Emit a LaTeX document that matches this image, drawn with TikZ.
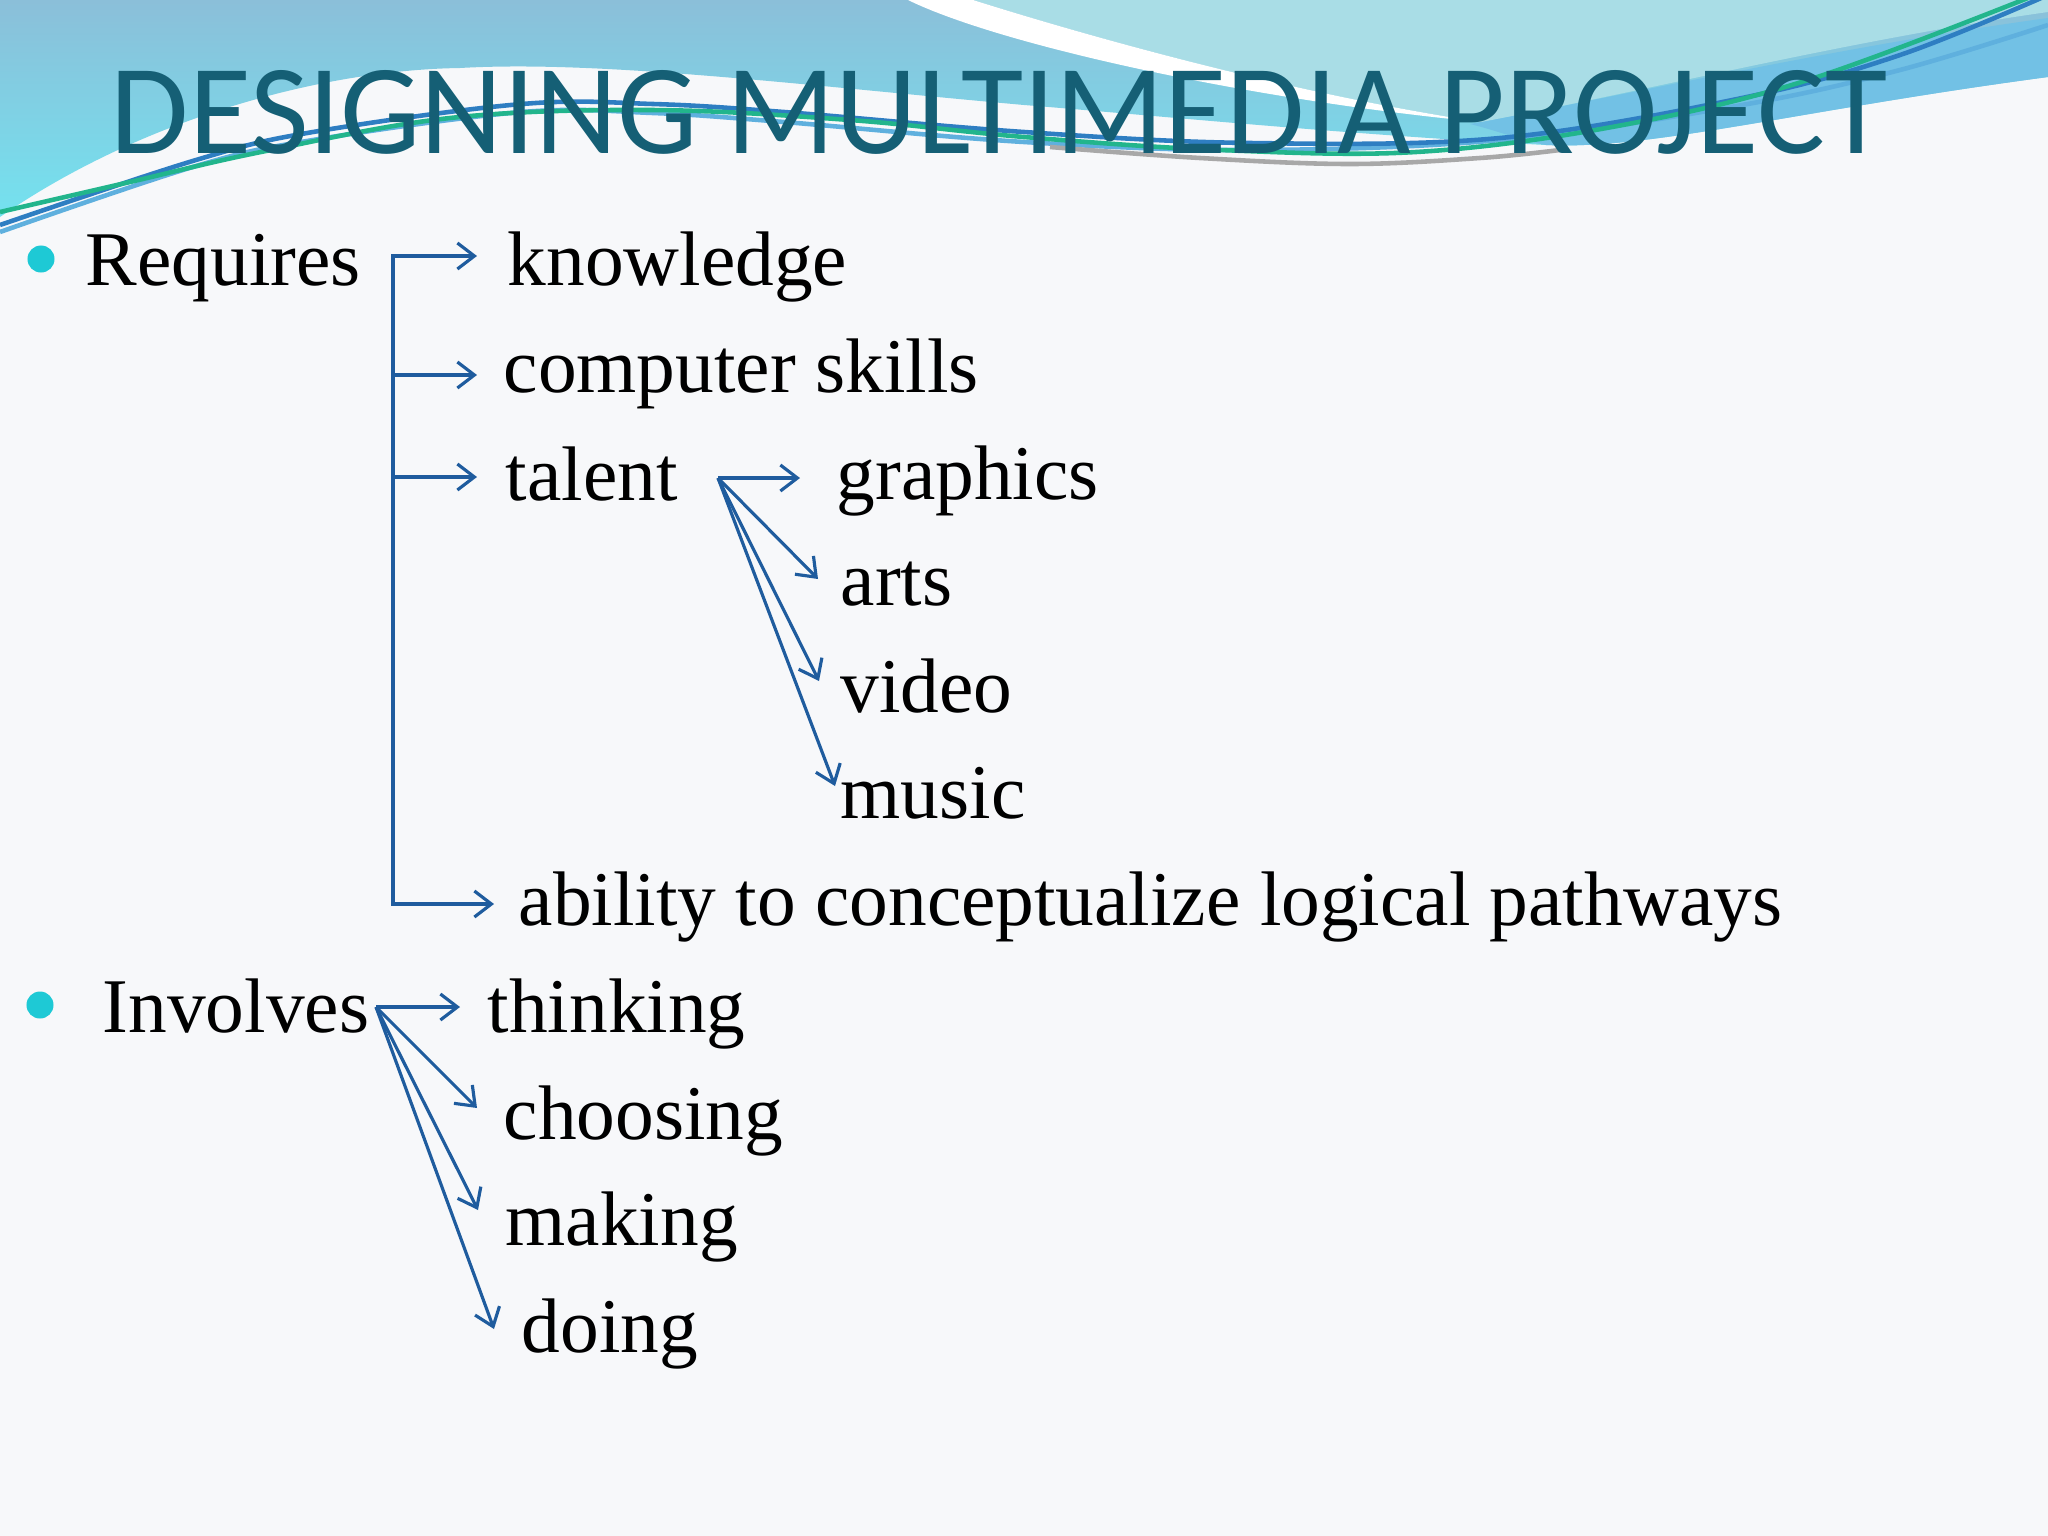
\documentclass[tikz,border=0pt]{standalone}
\usepackage{fontspec}
\setmainfont{Liberation Serif}
\newfontfamily\titlefont{Carlito}
\usetikzlibrary{arrows.meta}
\definecolor{pagebg}{HTML}{F7F8FA}
\definecolor{topblue}{HTML}{8BBFD9}
\definecolor{lowcyan}{HTML}{74E2EF}
\definecolor{lightcyan}{HTML}{A9DDE6}
\definecolor{bandblue}{HTML}{72C1E5}
\definecolor{titleteal}{HTML}{155F75}
\definecolor{arrowblue}{HTML}{1F5C9E}
\definecolor{bulletcyan}{HTML}{1EC9D5}
\definecolor{linegreen}{HTML}{22B58C}
\definecolor{lineblue}{HTML}{2E7EC2}
\definecolor{lineblue2}{HTML}{5FB0DE}
\definecolor{linegrey}{HTML}{A8A8A8}
\tikzset{
  txt/.style={anchor=base west, inner sep=0pt, font=\fontsize{22pt}{26pt}\selectfont, text=black},
  bulletdot/.style={circle, fill=bulletcyan, inner sep=0pt, minimum size=0.27cm},
  conn/.style={draw=arrowblue, line width=0.9pt},
  arr/.style={conn, -{Straight Barb[length=0.17cm,width=0.26cm]}},
  wave/.style={line width=1.3pt}
}
\begin{document}
\begin{tikzpicture}[x=0.01cm,y=-0.01cm]
\useasboundingbox (0,0) rectangle (2048,1536);
\begin{scope}
\clip (0,0) rectangle (2048,1536);
\fill[pagebg] (0,0) rectangle (2048,1536);
% top-left blue region
\shade[top color=topblue, bottom color=lowcyan]
  (0,0) -- (2048,0) -- (2048,77)
  .. controls (1800,110) and (1650,150) .. (1546,145)
  .. controls (1350,135) and (1150,115) .. (1024,105)
  .. controls (800,85) and (600,60) .. (460,68)
  .. controls (320,70) and (140,120) .. (0,217) -- cycle;
% medium blue band at right
\fill[bandblue]
  (1470,124) .. controls (1650,90) and (1850,45) .. (2048,18)
  -- (2048,77) .. controls (1800,110) and (1650,150) .. (1546,145)
  .. controls (1520,140) and (1495,130) .. (1470,124) -- cycle;
% light cyan top-right region
\fill[lightcyan] (973,0) .. controls (1100,40) and (1300,95) .. (1481,122)
  .. controls (1650,90) and (1850,40) .. (2048,12) -- (2048,0) -- cycle;
% white stripe
\fill[white] (908,0) .. controls (1000,45) and (1250,100) .. (1481,122)
  .. controls (1300,95) and (1100,40) .. (973,0) -- cycle;
% wave lines
\draw[wave, lineblue2] plot[smooth, tension=0.6] coordinates {(0,232) (196,166) (313,140) (522,112) (653,113) (784,122) (1024,142) (1250,150) (1500,140) (1742,105) (1900,70) (2048,25)};
\draw[wave, lineblue] plot[smooth, tension=0.6] coordinates {(0,225) (196,160) (313,132) (522,104) (653,104) (784,112) (1024,132) (1250,143) (1500,138) (1742,98) (1900,55) (2048,-5)};
\draw[wave, linegrey] plot[smooth, tension=0.6] coordinates {(1050,147) (1200,158) (1350,164) (1480,158) (1560,150)};
\draw[wave, linegreen] plot[smooth, tension=0.6] coordinates {(0,212) (130,182) (261,152) (450,118) (650,110) (850,120) (1024,137) (1220,150) (1416,152) (1612,127) (1808,80) (2048,-10)};
\end{scope}
% title
\node[anchor=south west, inner sep=0pt, text=titleteal] (title) at (110,155)
  {\resizebox{17.76cm}{0.83cm}{\titlefont DESIGNING MULTIMEDIA PROJECT}};
% bullets and heads
\node[bulletdot] (bul1) at (41,259) {};
\node[bulletdot] (bul2) at (40,1005) {};
\node[txt] (requires) at (85,285) {Requires};
\node[txt] (involves) at (102,1032) {Involves};
% requires items
\node[txt] (knowledge) at (507,285) {knowledge};
\node[txt] (computer) at (503,392) {computer skills};
\node[txt] (talent) at (505,500) {talent};
\node[txt] (graphics) at (836,499) {graphics};
\node[txt] (arts) at (840,605) {arts};
\node[txt] (video) at (840,712) {video};
\node[txt] (music) at (840,818) {music};
\node[txt] (ability) at (518,925) {ability to conceptualize logical pathways};
% involves items
\node[txt] (thinking) at (487,1032) {thinking};
\node[txt] (choosing) at (503,1139) {choosing};
\node[txt] (making) at (505,1245) {making};
\node[txt] (doing) at (521,1352) {doing};
% bracket coordinates
\coordinate (br1) at (393,256);
\coordinate (br2) at (393,375);
\coordinate (br3) at (393,477);
\coordinate (br4) at (393,904);
\coordinate (hk) at (477,256);
\coordinate (hc) at (477,375);
\coordinate (ht) at (477,477);
\coordinate (ha) at (494,904);
\draw[arr] (br3) -- (br1) -- (hk);
\draw[arr] (br1) -- (br4) -- (ha);
\draw[arr] (br2) -- (hc);
\draw[arr] (br3) -- (ht);
% talent fan
\coordinate (tsrc) at (718,478);
\coordinate (hg) at (800,478);
\coordinate (har) at (818,579);
\coordinate (hv) at (819,681);
\coordinate (hm) at (835,786);
\draw[arr] (tsrc) -- (hg);
\draw[arr] (tsrc) -- (har);
\draw[arr] (tsrc) -- (hv);
\draw[arr] (tsrc) -- (hm);
% involves fan
\coordinate (isrc) at (376,1007);
\coordinate (hth) at (460,1007);
\coordinate (hch) at (477,1108);
\coordinate (hma) at (478,1210);
\coordinate (hdo) at (494,1329);
\draw[arr] (isrc) -- (hth);
\draw[arr] (isrc) -- (hch);
\draw[arr] (isrc) -- (hma);
\draw[arr] (isrc) -- (hdo);
\end{tikzpicture}
\end{document}
